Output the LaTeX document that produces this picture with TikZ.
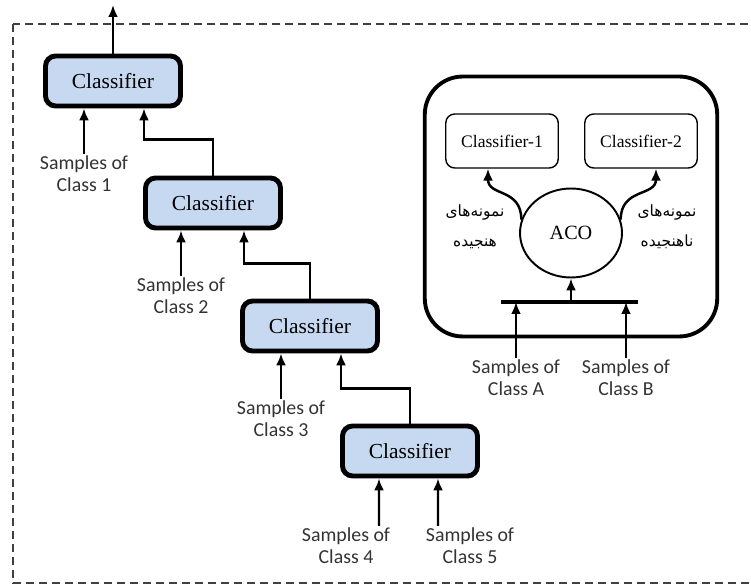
\documentclass[tikz,border=0pt]{standalone}
\usepackage{fontspec}
\setmainfont{Liberation Serif}
\newfontfamily\samplesfont{Carlito}
\newfontfamily\farsifont[Script=Arabic]{DejaVu Sans}
\TeXXeTstate=1
\usetikzlibrary{arrows.meta,shapes.geometric}
\definecolor{clsblue}{HTML}{C6D9F1}

\tikzset{
  classifier/.style={draw, line width=2.8pt, rounded corners=0.2cm, fill=clsblue,
    minimum width=2.7cm, minimum height=1cm, font=\fontsize{12.2}{14}\selectfont},
  inner classifier/.style={draw, line width=0.8pt, rounded corners=0.18cm,
    minimum width=2.25cm, minimum height=1.08cm, font=\fontsize{10}{12}\selectfont},
  samplelabel/.style={align=center, text=black!80, inner sep=1pt,
    font=\samplesfont\fontsize{11.3}{12.6}\selectfont},
  farsi/.style={align=center, inner sep=1pt, font=\farsifont\fontsize{8.8}{17}\selectfont},
  link/.style={->, line width=1.4pt},
}

\begin{document}
\begin{tikzpicture}[x=0.02cm, y=-0.02cm, >={Latex[length=0.24cm,width=0.2cm]}]
    \useasboundingbox (0,0) rectangle (751,584);
    \clip (0,0) rectangle (751,584);
    \draw[line width=0.8pt, black!75, dash pattern=on 0.16cm off 0.1cm] (13,24) rectangle (790,583);

    %% cascade of classifiers
    \node[classifier] (c1) at (113,81) {Classifier};
    \node[classifier] (c2) at (213,203) {Classifier};
    \node[classifier] (c3) at (310,326) {Classifier};
    \node[classifier] (c4) at (410,451) {Classifier};
    \coordinate (out) at (113,5);

    \node[samplelabel] (s1) at (84,174) {Samples of\\Class 1};
    \node[samplelabel] (s2) at (181,296) {Samples of\\Class 2};
    \node[samplelabel] (s3) at (281,419) {Samples of\\Class 3};
    \node[samplelabel] (s4) at (346,546) {Samples of\\Class 4};
    \node[samplelabel] (s5) at (470,546) {Samples of\\Class 5};

    \draw[link] (c1.north) -- (out);
    \draw[link] (s1.north) -- (s1.north |- c1.south);
    \draw[link] (c2.north) -- ++(0,-36) -| ([xshift=0.62cm]c1.south);
    \draw[link] (s2.north) -- (s2.north |- c2.south);
    \draw[link] (c3.north) -- ++(0,-35) -| ([xshift=0.62cm]c2.south);
    \draw[link] (s3.north) -- (s3.north |- c3.south);
    \draw[link] (c4.north) -- ++(0,-35) -| ([xshift=0.62cm]c3.south);
    \draw[link] ([xshift=0.66cm]s4.north) -- ([xshift=-0.62cm]c4.south);
    \draw[link] ([xshift=-0.64cm]s5.north) -- ([xshift=0.56cm]c4.south);

    %% ACO block
    \node[draw, line width=2.2pt, rounded corners=0.76cm, minimum width=5.85cm,
      minimum height=5.2cm] (grp) at (571,206.5) {};
    \node[inner classifier] (k1) at (502,141) {Classifier-1};
    \node[inner classifier] (k2) at (641,141) {Classifier-2};
    \node[draw, ellipse, line width=1.1pt, minimum width=2.04cm, minimum height=1.78cm,
      font=\fontsize{11.5}{13}\selectfont] (aco) at (571,233) {ACO};
    \coordinate (barl) at (501,302);
    \coordinate (barr) at (638,302);
    \draw[line width=2.4pt] (barl) -- (barr);
    \draw[link] (aco.south |- barl) -- (aco.south);

    \node[samplelabel] (sa) at (516,378) {Samples of\\Class A};
    \node[samplelabel] (sb) at (626,378) {Samples of\\Class B};
    \draw[link] (sa.north) -- (sa.north |- barl);
    \draw[link] (sb.north) -- (sb.north |- barl);

    %% outputs of ACO
    \draw[link] (aco.165) .. controls +(0,-32) and +(0,28) .. ([xshift=-0.28cm]k1.south);
    \draw[link] (aco.15) .. controls +(0,-32) and +(0,28) .. ([xshift=0.3cm]k2.south);
    \node[farsi] (f1) at (475,227) {\beginR نمونه‌های\endR\\\beginR هنجیده\endR};
    \node[farsi] (f2) at (667,227) {\beginR نمونه‌های\endR\\\beginR ناهنجیده\endR};
  \end{tikzpicture}
\end{document}
